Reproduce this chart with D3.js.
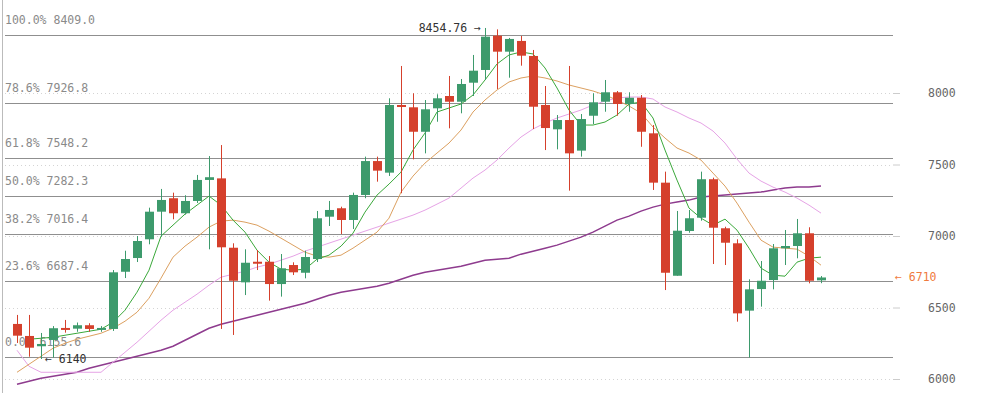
<!DOCTYPE html>
<html><head><meta charset="utf-8">
<script src="https://cdn.jsdelivr.net/npm/d3@7"></script>
<style>body{margin:0;background:#fff}svg{display:block}</style>
</head><body>
<script>
// ---- data ----
const opens  = [6385,6301,6229,6273,6357,6352,6376,6352,6350,6750,6846,6977,7170,7264,7159,7245,7392,7403,6918,6676,6820,6820,6664,6797,6743,6839,7135,7194,7112,7287,7524,7443,7916,7900,7729,7893,7979,7939,8072,8161,8401,8289,8364,8259,7916,7746,7811,7597,7841,7939,8005,7923,7967,7718,7373,6722,7035,7128,7397,7054,6949,6478,6629,6692,6914,6930,7019,6690];
const highs  = [6448,6448,6322,6370,6413,6395,6390,6370,6762,6897,7000,7198,7329,7303,7285,7427,7559,7636,6949,6907,6902,6860,6874,6816,6897,7175,7245,7205,7303,7555,7555,7963,8189,7998,7951,7991,8119,8098,8266,8454.76,8445,8385,8399,8301,8049,7846,8189,7853,7998,8091,8014,8005,7986,7776,7450,7175,7182,7450,7408,7065,6977,6697,6825,6944,7042,7119,7061,6720];
const lows   = [6252,6156,6140,6150,6324,6330,6330,6330,6336,6706,6818,6942,6995,7117,7150,7231,6907,6350,6308,6587,6762,6548,6576,6727,6704,6818,7070,7014,7049,7264,7380,7420,7299,7536,7578,7799,7753,7858,7979,8091,8028,8107,8191,7748,7601,7606,7317,7555,7783,7869,7841,7869,7624,7322,6622,6722,7023,7107,6804,6797,6401,6150,6506,6627,6797,6844,6669,6670];
const closes = [6303,6219,6245,6355,6350,6376,6350,6357,6746,6839,6965,7170,7252,7159,7245,7392,7411,6921,6687,6813,6815,6664,6774,6746,6853,7124,7182,7112,7287,7524,7457,7916,7904,7729,7886,7963,7939,8063,8156,8394,8289,8378,8261,7904,7755,7811,7578,7818,7935,8005,7923,7967,7729,7373,6743,7037,7124,7397,7058,6953,6459,6627,6687,6914,6930,7019,6687,6710];
const ma5  = [null,6278,6285,6292,6306,6320,6334,6348,6397,6481,6607,6761,6999,7076,7153,7216,7279,7216,7111,7027,6901,6817,6768,6761,6768,6838,6866,6929,7020,7167,7286,7363,7447,7601,7720,7867,7895,7923,7986,8091,8203,8266,8287,8273,8175,8035,7881,7776,7776,7797,7846,7923,7937,7825,7601,7391,7195,7125,7076,7118,7041,6915,6775,6726,6719,6817,6845,6852];
const ma10 = [6047,6103,6159,6215,6250,6278,6299,6320,6355,6404,6467,6565,6705,6852,6929,6992,7062,7104,7111,7097,7076,7034,6985,6936,6887,6859,6852,6866,6915,6971,7027,7125,7307,7419,7510,7580,7650,7741,7867,7951,8021,8077,8105,8119,8105,8084,8056,8035,8014,7986,7951,7909,7860,7762,7685,7615,7580,7531,7440,7349,7230,7097,6971,6922,6915,6908,6859,6796];
const ma20 = [6201,6089,6047,6047,6047,6047,6047,6047,6117,6187,6257,6334,6411,6481,6537,6593,6656,6712,6733,6754,6782,6803,6831,6859,6894,6922,6950,6978,7006,7034,7062,7090,7118,7146,7181,7223,7265,7335,7405,7461,7531,7615,7692,7748,7790,7825,7853,7881,7916,7944,7965,7972,7972,7958,7902,7867,7825,7790,7734,7650,7538,7440,7384,7342,7307,7265,7216,7160];
const ma60 = [5963,5984,6005,6019,6033,6047,6075,6096,6117,6138,6159,6180,6201,6229,6271,6313,6355,6383,6404,6425,6446,6467,6488,6509,6530,6558,6586,6607,6621,6635,6649,6670,6698,6726,6747,6761,6775,6789,6810,6831,6838,6845,6873,6894,6915,6936,6964,6992,7027,7069,7111,7139,7174,7202,7223,7237,7251,7272,7279,7286,7293,7300,7307,7321,7335,7342,7342,7349];
const fibRatios = ["100.0%","78.6%","61.8%","50.0%","38.2%","23.6%","0.0%"];
const fibLevels = [8409.0,7926.8,7548.2,7282.3,7016.4,6687.4,6155.6];
const yTicks = [6000,6500,7000,7500,8000];
const highLabel = "8454.76";
const lowLabel = "6140";
const lastLabel = "6710";
const lastPrice = 6710;
const lowIndex = 2, highIndex = 39;

// ---- layout ----
const W = 983, H = 393;
const svg = d3.select("body").append("svg").attr("width", W).attr("height", H);
const idx = d3.range(opens.length);
const x = d3.scaleBand().domain(idx).range([11, 11 + 12 * idx.length]).paddingInner(0.25).paddingOuter(0.125);
const y = d3.scaleLinear().domain([6000, 8000]).range([379, 93]);
const cx = i => x(i) + x.bandwidth() / 2;
const mono = "'DejaVu Sans Mono', monospace";

// left border
svg.append("line").attr("x1", 2.5).attr("x2", 2.5).attr("y1", 0).attr("y2", H).attr("stroke", "#bbb");

// dotted gridlines + right axis
const axis = d3.axisRight(y).tickValues(yTicks).tickSize(7).tickPadding(28).tickFormat(d3.format("d"));
const ag = svg.append("g").attr("transform", "translate(893,0)").call(axis);
ag.select(".domain").remove();
ag.selectAll(".tick line").attr("stroke", "#ccc");
ag.selectAll(".tick text").attr("fill", "#666").attr("font-family", mono).attr("font-size", "11.5px");
svg.append("g").selectAll("line").data(yTicks).join("line")
  .attr("x1", 5).attr("x2", 893).attr("y1", d => Math.round(y(d)) + 0.5).attr("y2", d => Math.round(y(d)) + 0.5)
  .attr("stroke", "#d4d4d4").attr("stroke-dasharray", "1,3");

// fib lines
svg.append("g").selectAll("line").data(fibLevels).join("line")
  .attr("x1", 5).attr("x2", 893).attr("y1", d => Math.round(y(d)) + 0.5).attr("y2", d => Math.round(y(d)) + 0.5)
  .attr("stroke", "#8f8f8f").attr("stroke-width", 1.2);
svg.append("g").selectAll("text").data(fibLevels).join("text")
  .attr("x", 5).attr("y", d => y(d) - 11)
  .attr("fill", "#8a8a8a").attr("font-family", mono).attr("font-size", "11.5px")
  .text((d, i) => fibRatios[i] + " " + d.toFixed(1));

// MA lines
const mk = arr => d3.line().defined(d => d != null).x((d, i) => cx(i)).y(d => y(d))(arr);
svg.append("path").attr("d", mk(ma60)).attr("fill", "none").attr("stroke", "#8e3b8e").attr("stroke-width", 1.5);
svg.append("path").attr("d", mk(ma20)).attr("fill", "none").attr("stroke", "#e6a3e6").attr("stroke-width", 1);
svg.append("path").attr("d", mk(ma10)).attr("fill", "none").attr("stroke", "#dca060").attr("stroke-width", 1);
svg.append("path").attr("d", mk(ma5)).attr("fill", "none").attr("stroke", "#3aa83a").attr("stroke-width", 1);

// candles
const up = i => closes[i] >= opens[i];
const green = "#3d9a6c", red = "#d5402c";
const cg = svg.append("g");
cg.selectAll("line").data(idx).join("line")
  .attr("x1", i => Math.round(cx(i)) + 0.5).attr("x2", i => Math.round(cx(i)) + 0.5)
  .attr("y1", i => y(highs[i])).attr("y2", i => y(lows[i]))
  .attr("stroke", i => up(i) ? green : red);
cg.selectAll("rect").data(idx).join("rect")
  .attr("x", i => Math.round(x(i))).attr("width", Math.round(x.bandwidth()))
  .attr("y", i => y(Math.max(opens[i], closes[i])))
  .attr("height", i => Math.max(2, Math.abs(y(opens[i]) - y(closes[i]))))
  .attr("fill", i => up(i) ? green : red);

// annotations
svg.append("text").attr("x", cx(highIndex) - 4).attr("y", y(highs[highIndex]) + 4)
  .attr("text-anchor", "end").attr("fill", "#333").attr("font-family", mono).attr("font-size", "11.5px")
  .text(highLabel + " \u2192");
svg.append("text").attr("x", cx(lowIndex) + 4).attr("y", y(lows[lowIndex]) + 4)
  .attr("fill", "#333").attr("font-family", mono).attr("font-size", "11.5px")
  .text("\u2190 " + lowLabel);
svg.append("text").attr("x", 895).attr("y", y(lastPrice) + 4)
  .attr("fill", "#ef7a3d").attr("font-family", mono).attr("font-size", "11.5px")
  .text("\u2190 " + lastLabel);
</script>
</body></html>
